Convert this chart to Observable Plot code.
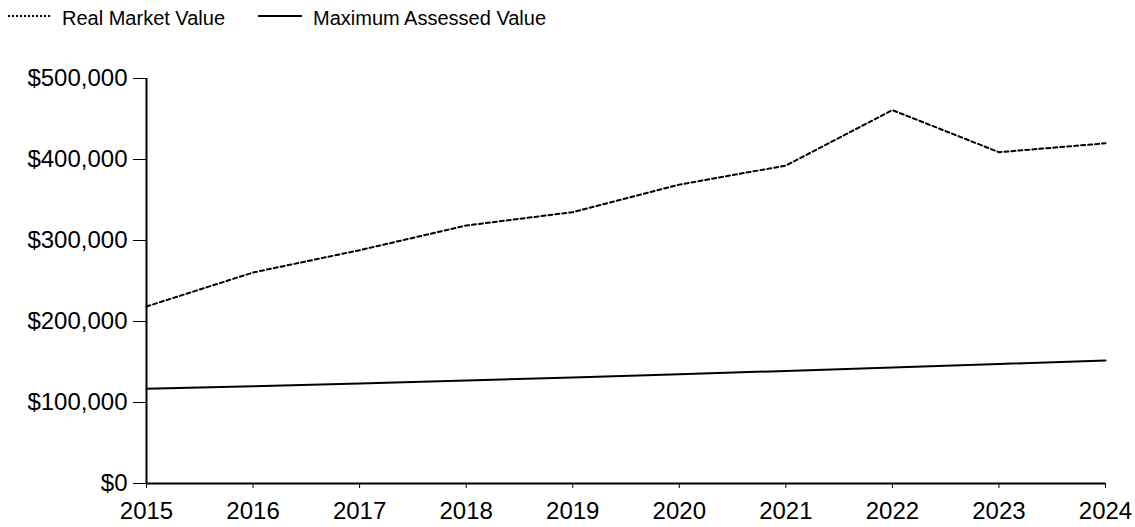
<!DOCTYPE html>
<html>
<head>
<meta charset="utf-8">
<script src="https://cdn.jsdelivr.net/npm/d3@7"></script>
<script src="https://cdn.jsdelivr.net/npm/@observablehq/plot@0.6"></script>
<style>
  body { margin: 0; background: #fff; font-family: "Liberation Sans", Arial, sans-serif; }
  #legend { position: relative; height: 32px; width: 1135px; font-size: 20px; color: #000; }
  #legend .sw { position: absolute; top: 15px; height: 0; border-top: 2px solid #000; }
  #legend .lab { position: absolute; top: 7px; white-space: nowrap; }
</style>
</head>
<body>
<div id="legend"></div>
<div id="chart"></div>
<script>
const years = [2015, 2016, 2017, 2018, 2019, 2020, 2021, 2022, 2023, 2024];
const realMarketValue = [218500, 260500, 288000, 318500, 335000, 369000, 392500, 461000, 409000, 420000];
const maxAssessedValue = [117000, 120000, 123500, 127200, 131000, 135000, 139000, 143200, 147500, 152000];
const seriesNames = ["Real Market Value", "Maximum Assessed Value"];
const yTicks = [0, 100000, 200000, 300000, 400000, 500000];

const rows = [];
years.forEach((y, i) => {
  rows.push({year: y, value: realMarketValue[i], series: seriesNames[0]});
  rows.push({year: y, value: maxAssessedValue[i], series: seriesNames[1]});
});

// legend
const legend = document.getElementById("legend");
const legendPos = [{sw: 8, w: 42, lab: 62, dash: "dotted"}, {sw: 258, w: 44, lab: 313, dash: "solid"}];
seriesNames.forEach((name, i) => {
  const p = legendPos[i];
  const s = document.createElement("div");
  s.className = "sw";
  s.style.left = p.sw + "px";
  s.style.width = p.w + "px";
  s.style.borderTopStyle = p.dash;
  legend.appendChild(s);
  const t = document.createElement("div");
  t.className = "lab";
  t.style.left = p.lab + "px";
  t.textContent = name;
  legend.appendChild(t);
});

const fmt = d => "$" + d3.format(",")(d);

const chart = Plot.plot({
  width: 1135,
  height: 495,
  marginTop: 46,
  marginBottom: 44,
  marginLeft: 146,
  marginRight: 30,
  style: {fontFamily: "'Liberation Sans', Arial, sans-serif", fontSize: "24px", color: "#000", background: "#fff"},
  x: {domain: [2015, 2024], ticks: years, tickFormat: d => String(d), tickSize: 5, tickPadding: 13, label: null},
  y: {domain: [0, 500000], ticks: yTicks, tickFormat: fmt, tickSize: 13, tickPadding: 6, label: null},
  marks: [
    Plot.ruleX([2015], {y1: 0, y2: 500000, stroke: "#000", strokeWidth: 2}),
    Plot.ruleY([0], {stroke: "#000", strokeWidth: 2}),
    Plot.line(rows.filter(d => d.series === seriesNames[0]), {x: "year", y: "value", stroke: "#000", strokeWidth: 2, strokeDasharray: "4,3"}),
    Plot.line(rows.filter(d => d.series === seriesNames[1]), {x: "year", y: "value", stroke: "#000", strokeWidth: 2})
  ]
});
document.getElementById("chart").appendChild(chart);
</script>
</body>
</html>
